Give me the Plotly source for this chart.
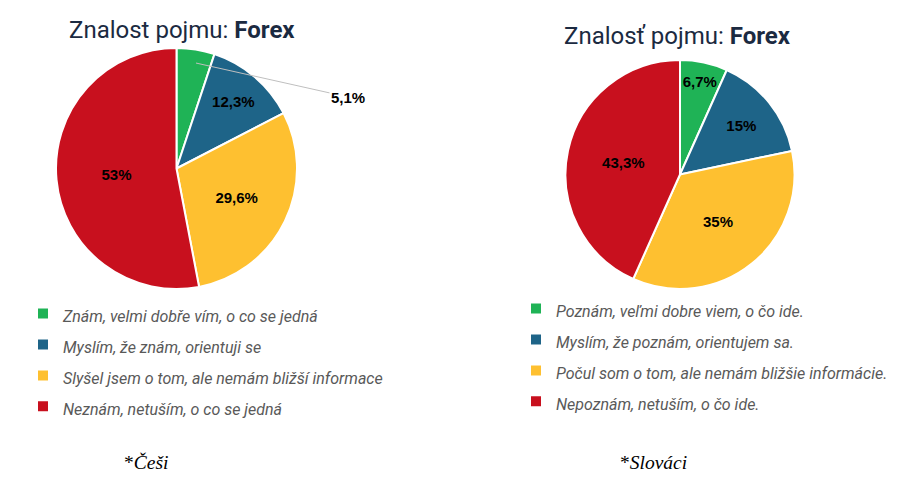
import math
import plotly.graph_objects as go

# ---- data ----
cz_labels = ["Znám, velmi dobře vím, o co se jedná",
             "Myslím, že znám, orientuji se",
             "Slyšel jsem o tom, ale nemám bližší informace",
             "Neznám, netuším, o co se jedná"]
cz_values = [5.1, 12.3, 29.6, 53.0]

sk_labels = ["Poznám, veľmi dobre viem, o čo ide.",
             "Myslím, že poznám, orientujem sa.",
             "Počul som o tom, ale nemám bližšie informácie.",
             "Nepoznám, netuším, o čo ide."]
sk_values = [6.7, 15.0, 35.0, 43.3]

colors = ["#1FB356", "#1E6488", "#FEC030", "#C8101E"]
title_text = "Znalost pojmu: <b>Forex</b>"
title_text_sk = "Znalosť pojmu: <b>Forex</b>"
note_cz = "*<i>Češi</i>"
note_sk = "*<i>Slováci</i>"

W, H = 922, 488


def fmt(v):
    return f"{v:g}".replace(".", ",") + "%"


def span(s):
    return f'<span style="font-size:16px">{s}</span>'


cz_text = [fmt(v) for v in cz_values]
cz_text[0] = ""  # shown outside with a leader line
sk_text = [fmt(v) for v in sk_values]

# domains (paper)
cz_dom = dict(x=[56 / W, 297 / W], y=[1 - 289 / H, 1 - 48 / H])
sk_dom = dict(x=[565 / W, 795 / W], y=[1 - 289 / H, 1 - 60 / H])

label_font = dict(family="Liberation Sans", size=15, color="black", weight="bold")

fig = go.Figure()
common = dict(sort=False, direction="clockwise", rotation=0,
              textinfo="text", textposition="inside",
              insidetextorientation="horizontal",
              textfont=label_font,
              hoverinfo="label+percent")
fig.add_trace(go.Pie(labels=[span(l) for l in cz_labels], values=cz_values,
                     text=cz_text, domain=cz_dom, legend="legend",
                     marker=dict(colors=colors, line=dict(color="white", width=2)),
                     **common))
fig.add_trace(go.Pie(labels=[span(l) for l in sk_labels], values=sk_values,
                     text=sk_text, domain=sk_dom, legend="legend2",
                     marker=dict(colors=colors, line=dict(color="white", width=2)),
                     **common))

# leader-line label for the small Czech slice
cx = (cz_dom["x"][0] + cz_dom["x"][1]) / 2 * W
cy = (1 - (cz_dom["y"][0] + cz_dom["y"][1]) / 2) * H
R = (cz_dom["x"][1] - cz_dom["x"][0]) * W / 2
theta = math.radians(cz_values[0] / sum(cz_values) * 360 / 2 + 1.3)
px = cx + 0.89 * R * math.sin(theta)
py = cy - 0.89 * R * math.cos(theta)

annotations = [
    dict(x=px / W, y=1 - py / H, xref="paper", yref="paper",
         text=f"<b>{fmt(cz_values[0])}</b>", showarrow=True, arrowhead=0,
         arrowwidth=1, arrowcolor="#BFBFBF", ax=152, ay=34,
         font=label_font),
    dict(x=182 / W, y=1 - 30 / H, xref="paper", yref="paper", text=title_text,
         xanchor="center", yanchor="middle",
         showarrow=False, font=dict(family="Roboto", size=24, color="#1B2A41")),
    dict(x=677 / W, y=1 - 36 / H, xref="paper", yref="paper", text=title_text_sk,
         xanchor="center", yanchor="middle",
         showarrow=False, font=dict(family="Roboto", size=24, color="#1B2A41")),
    dict(x=146 / W, y=1 - 462 / H, xref="paper", yref="paper", text=note_cz,
         xanchor="center", yanchor="middle",
         showarrow=False, font=dict(family="Liberation Serif", size=19.5, color="black")),
    dict(x=653 / W, y=1 - 462 / H, xref="paper", yref="paper", text=note_sk,
         xanchor="center", yanchor="middle",
         showarrow=False, font=dict(family="Liberation Serif", size=19.5, color="black")),
]

legend_font = dict(family="Roboto", size=21.5, color="#595959", style="italic")
fig.update_layout(
    width=W, height=H, margin=dict(l=0, r=0, t=0, b=0),
    paper_bgcolor="white", plot_bgcolor="white",
    annotations=annotations,
    uniformtext=dict(minsize=15, mode="show"),
    legend=dict(x=23 / W, y=1 - 293 / H, xanchor="left", yanchor="top",
                font=legend_font, itemwidth=30, bgcolor="rgba(0,0,0,0)"),
    legend2=dict(x=516 / W, y=1 - 288 / H, xanchor="left", yanchor="top",
                 font=legend_font, itemwidth=30, bgcolor="rgba(0,0,0,0)"),
)

fig.write_html("out.html")
